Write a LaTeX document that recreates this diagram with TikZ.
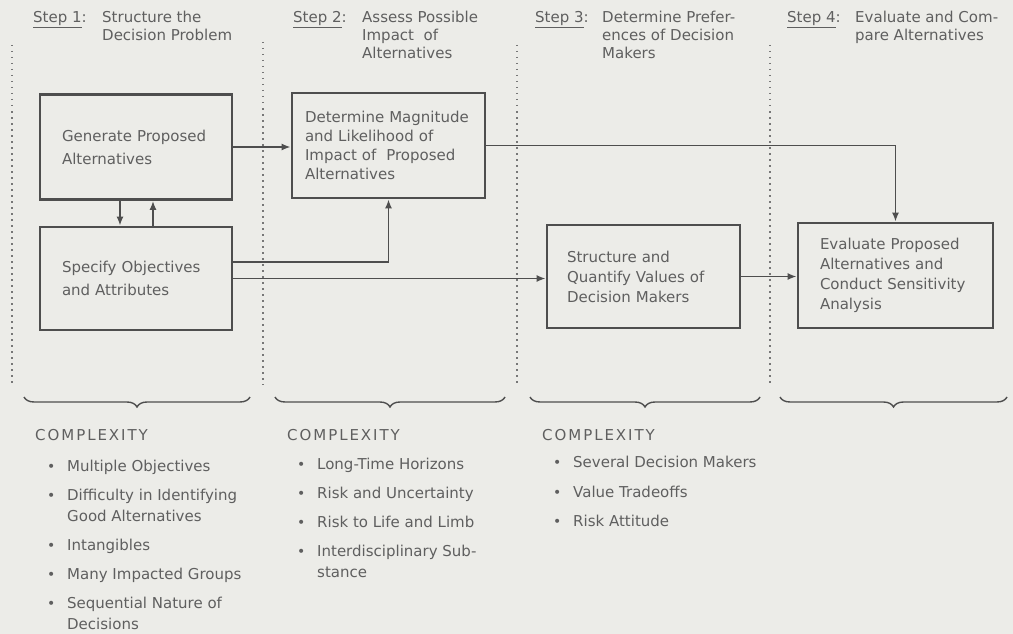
\documentclass[tikz,border=0pt]{standalone}
\usepackage{fontspec}
\setmainfont{DejaVu Sans}
\usetikzlibrary{arrows.meta,decorations.pathreplacing,calc}
\definecolor{bg}{HTML}{ECECE8}
\definecolor{txt}{HTML}{5F5F5F}
\definecolor{ln}{HTML}{4E4E4E}
\newcommand\itm[1]{\makebox[20pt][l]{\fontsize{14}{14}\selectfont\raisebox{0.5pt}{•}}#1}
\newcommand\cnt[1]{\hspace*{20pt}#1}
\begin{document}
\begin{tikzpicture}[x=1pt,y=-1pt,
  font=\fontsize{15}{20}\selectfont, text=txt,
  box/.style={draw=ln, line width=2.8pt, align=left, inner ysep=0pt, anchor=center},
  arr/.style={draw=ln, line width=1.6pt, -{Latex[length=9pt,width=7pt]}},
  sep/.style={draw=txt!85, line width=1.3pt, dash pattern=on 1.5pt off 4.5pt},
  brc/.style={draw=ln, line width=1.4pt, decorate, decoration={brace, mirror, amplitude=10pt}},
  head/.style={anchor=north west, inner sep=0pt, align=left, font=\fontsize{15}{18}\selectfont},
  steplbl/.style={anchor=base west, inner sep=0pt},
  cplx/.style={anchor=base west, inner sep=0pt, font=\fontsize{15}{18}\selectfont\addfontfeature{LetterSpace=13}},
  lst/.style={anchor=north west, inner sep=0pt, align=left, font=\fontsize{15}{21}\selectfont}]
\fill[bg] (0,0) rectangle (1013,634);
\useasboundingbox (0,0) rectangle (1013,634);

% column separators
\draw[sep] (12,45) -- (12,385);
\draw[sep] (263,42) -- (263,385);
\draw[sep] (517,45) -- (517,385);
\draw[sep] (770,45) -- (770,385);

% headers
\node[steplbl] (s1) at (33,22.5) {\underline{Step 1}:};
\node[head] (h1) at (102,11) {Structure the\\Decision Problem};
\node[steplbl] (s2) at (293,22.5) {\underline{Step 2}:};
\node[head] (h2) at (362,11) {Assess Possible\\Impact\ \ of\\Alternatives};
\node[steplbl] (s3) at (535,22.5) {\underline{Step 3}:};
\node[head] (h3) at (602,11) {Determine Prefer-\\ences of Decision\\Makers};
\node[steplbl] (s4) at (787,22.5) {\underline{Step 4}:};
\node[head] (h4) at (855,11) {Evaluate and Com-\\pare Alternatives};

% boxes
\node[box, minimum width=192pt, minimum height=105pt, text width=148pt, inner xsep=22pt,
      font=\fontsize{15}{23}\selectfont] (A) at (136,147) {Generate Proposed\\Alternatives};
\node[box, minimum width=192pt, minimum height=103pt, text width=148pt, inner xsep=22pt,
      font=\fontsize{15}{23}\selectfont] (B) at (136,278.5) {Specify Objectives\\and Attributes};
\node[box, minimum width=193pt, minimum height=105pt, text width=167pt, inner xsep=13pt,
      font=\fontsize{15}{19}\selectfont] (C) at (388.5,145.5) {Determine Magnitude\\and Likelihood of\\Impact of\ \ Proposed\\Alternatives};
\node[box, minimum width=193pt, minimum height=103pt, text width=153pt, inner xsep=20pt,
      font=\fontsize{15}{20}\selectfont] (D) at (643.5,276.5) {Structure and\\Quantify Values of\\Decision Makers};
\node[box, minimum width=195pt, minimum height=105pt, text width=151pt, inner xsep=22pt,
      font=\fontsize{15}{20}\selectfont] (E) at (895.5,275.5) {Evaluate Proposed\\Alternatives and\\Conduct Sensitivity\\Analysis};

% connectors
\draw[arr] (A.east) -- (A.east -| C.west);
\draw[arr] ([xshift=-16pt]A.south) -- ([xshift=-16pt]A.south |- B.north);
\draw[arr] ([xshift=17pt]B.north) -- ([xshift=17pt]B.north |- A.south);
\draw[arr] ([yshift=16.5pt]B.east) -| (C.south);
\draw[arr] (B.east) -- (B.east -| D.west);
\draw[arr] (C.east) -| (E.north);
\draw[arr] (D.east) -- (D.east -| E.west);

% braces
\draw[brc] (24,397) -- (250,397);
\draw[brc] (275,397) -- (505,397);
\draw[brc] (530,397) -- (760,397);
\draw[brc] (780,397) -- (1007,397);

% complexity lists
\node[cplx] (c1) at (35,440.5) {COMPLEXITY};
\node[cplx] (c2) at (287,440.5) {COMPLEXITY};
\node[cplx] (c3) at (542,440.5) {COMPLEXITY};

\node[lst] (l1) at (47,460) {\itm{Multiple Objectives}\\[8pt]
\itm{Difficulty in Identifying}\\
\cnt{Good Alternatives}\\[8pt]
\itm{Intangibles}\\[8pt]
\itm{Many Impacted Groups}\\[8pt]
\itm{Sequential Nature of}\\
\cnt{Decisions}};
\node[lst] (l2) at (297,458) {\itm{Long-Time Horizons}\\[8pt]
\itm{Risk and Uncertainty}\\[8pt]
\itm{Risk to Life and Limb}\\[8pt]
\itm{Interdisciplinary Sub-}\\
\cnt{stance}};
\node[lst] (l3) at (553,456) {\itm{Several Decision Makers}\\[9pt]
\itm{Value Tradeoffs}\\[8pt]
\itm{Risk Attitude}};
\end{tikzpicture}
\end{document}
